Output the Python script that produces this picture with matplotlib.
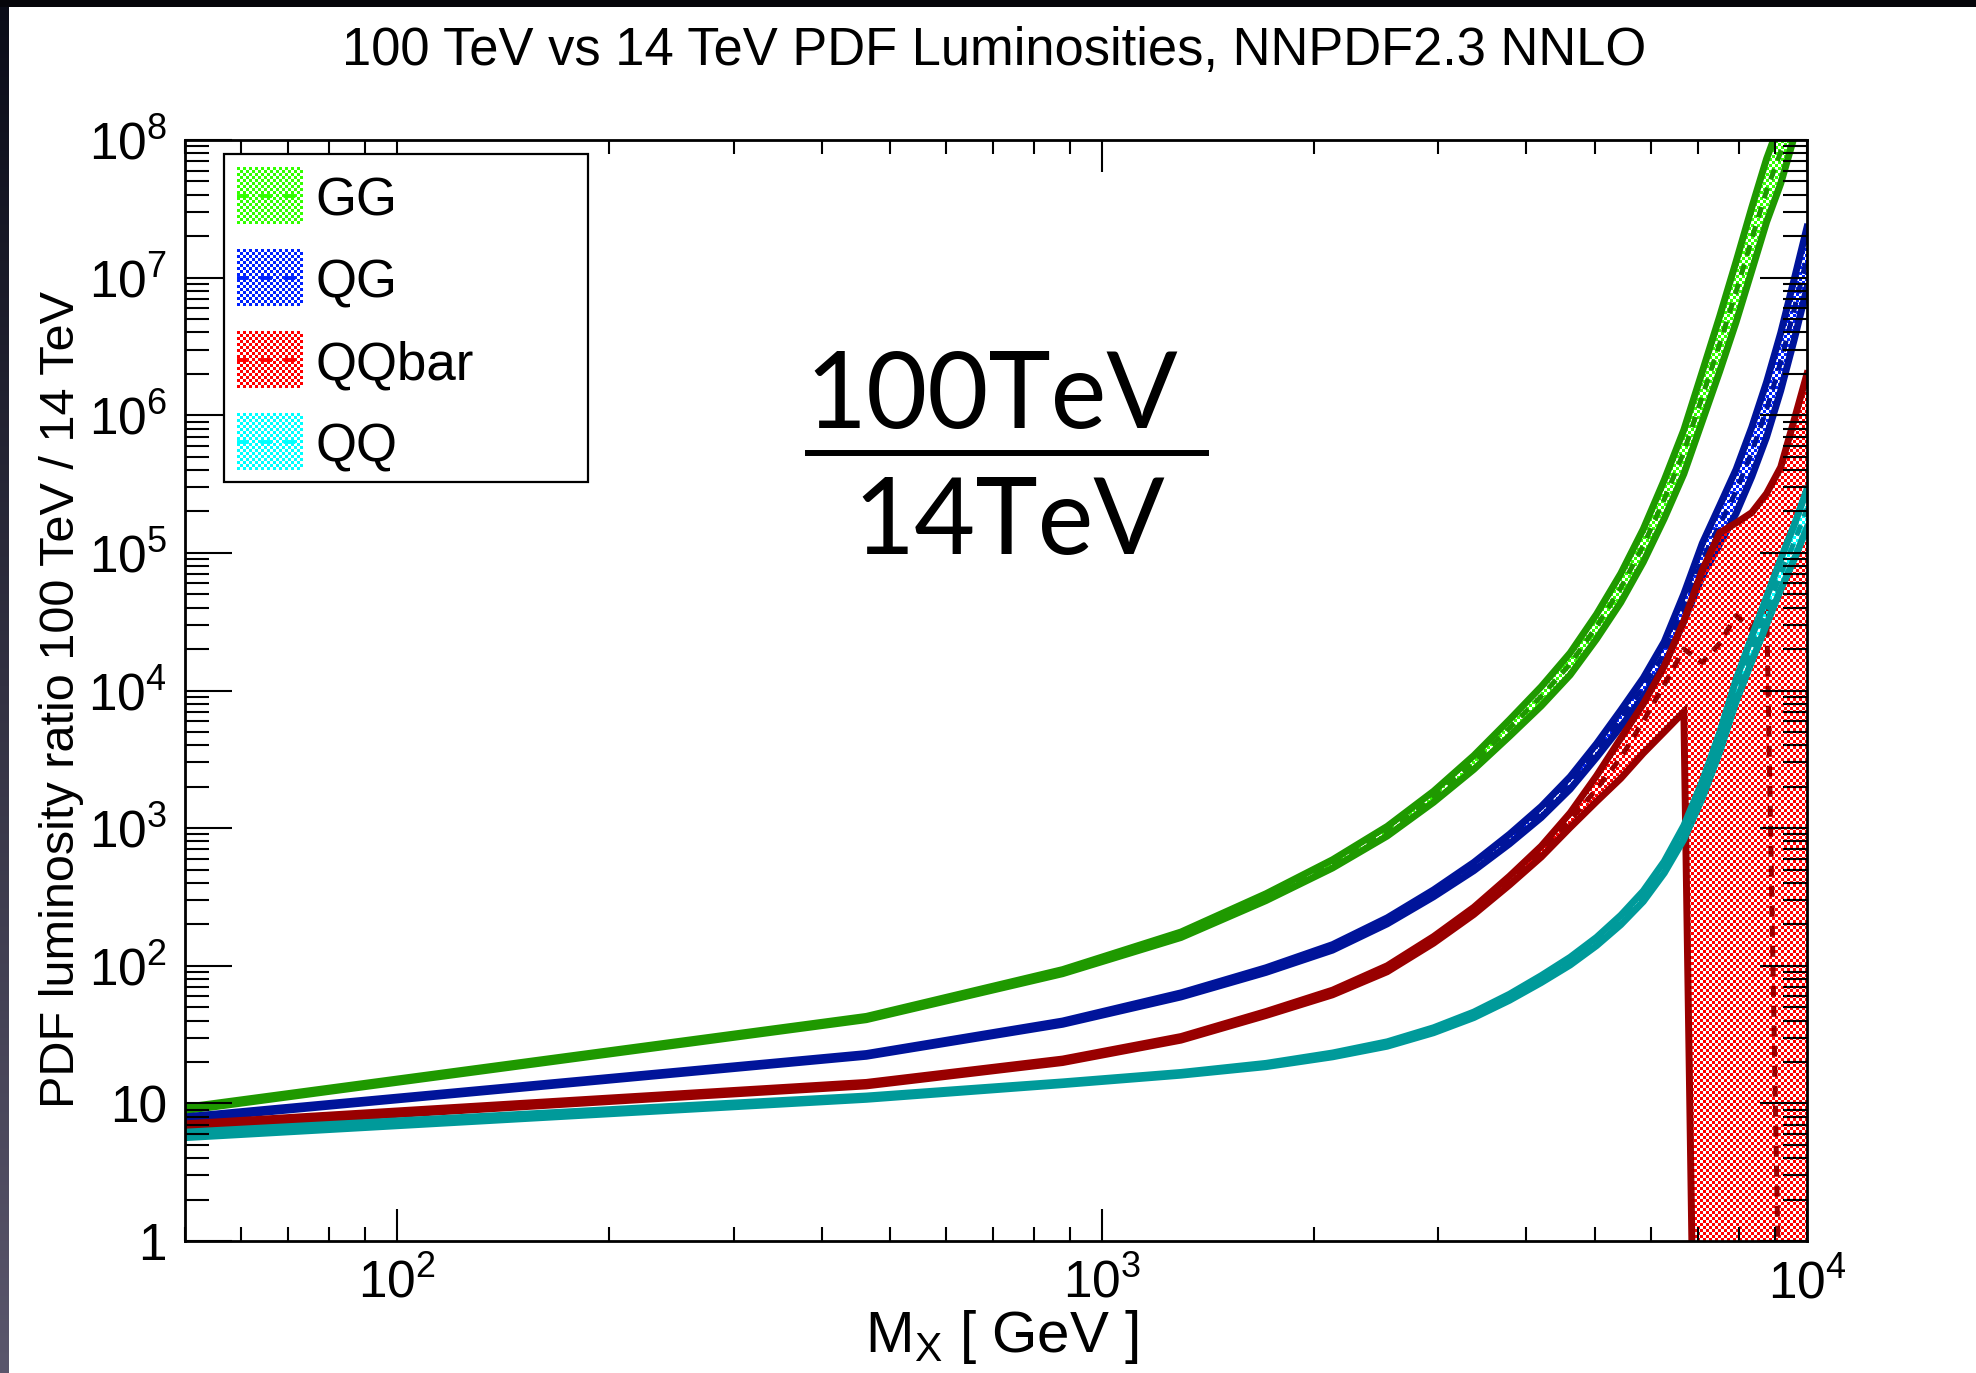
import numpy as np
import matplotlib
matplotlib.use('Agg')
import matplotlib.pyplot as plt
from matplotlib.patches import Rectangle
from matplotlib.path import Path
from matplotlib.lines import Line2D
from matplotlib.image import AxesImage
from matplotlib.colors import to_rgb
from matplotlib.ticker import FixedLocator, FixedFormatter, LogLocator, NullFormatter

# ---------------- data ----------------
mass_gev = [50, 463, 879, 1294, 1708, 2123, 2538, 2953, 3368, 3783, 4198, 4613,
            5028, 5443, 5858, 6273, 6688, 7103, 7518, 7933, 8348, 8763, 9178, 9593, 10000]

gg_central = [9.1, 41.7, 90.6, 168, 315, 550, 950, 1690, 3000, 5330, 9080, 15600,
              29100, 55600, 1.13e5, 2.45e5, 5.42e5, 1.37e6, 3.3e6, 7.9e6, 1.9e7, 4.3e7,
              8.2e7, 1.8e8, 3.6e8]
gg_halfwidth_dec = [0.012, 0.012, 0.015, 0.02, 0.025, 0.03, 0.035, 0.04, 0.05, 0.06, 0.07,
                    0.08, 0.09, 0.105, 0.12, 0.14, 0.16, 0.18, 0.2, 0.22, 0.23, 0.23, 0.23,
                    0.23, 0.23]

qg_central = [7.8, 22.5, 38.6, 61.4, 93, 136, 212, 336, 526, 832, 1310, 2130, 3660, 6270,
              10500, 18600, 40000, 89000, 1.6e5, 2.8e5, 5.4e5, 1.1e6, 2.45e6, 5.9e6, 1.4e7]
qg_halfwidth_dec = [0.01, 0.01, 0.012, 0.015, 0.017, 0.02, 0.022, 0.025, 0.03, 0.035, 0.04,
                    0.045, 0.05, 0.06, 0.07, 0.085, 0.1, 0.12, 0.14, 0.16, 0.18, 0.2, 0.21,
                    0.22, 0.22]

qqbar_central = [6.9, 13.8, 20.4, 29.7, 45, 64, 95, 154, 251, 415, 676, 1140, 1920, 3250,
                 6000, 11000, 20000, 16000, 22000, 35000, 28000, 45000, 0.06, 0.06, 0.06]
qqbar_lower = [6.7, 13.4, 19.8, 28.8, 43.5, 61.5, 90.5, 146, 236, 386, 617, 1010, 1560, 2300,
               3500, 5000, 7000, 1e-5, 1e-5, 1e-5, 1e-5, 1e-5, 1e-5, 1e-5, 1e-5]
qqbar_upper = [7.1, 14.2, 21.0, 30.6, 46.5, 66.5, 100, 163, 266, 447, 740, 1290, 2400, 4500,
               8000, 15000, 32000, 75000, 1.4e5, 1.65e5, 1.96e5, 2.7e5, 4.2e5, 9.3e5, 2e6]

qq_central = [5.9, 11.0, 14.0, 16.4, 19.0, 22.5, 27, 34, 44, 59, 80, 108, 150, 215, 320, 520,
              930, 1900, 4200, 10000, 20000, 38000, 70000, 1.2e5, 2.1e5]
qq_halfwidth_dec = [0.02, 0.012, 0.01, 0.01, 0.012, 0.014, 0.016, 0.018, 0.02, 0.022, 0.025,
                    0.028, 0.03, 0.034, 0.038, 0.042, 0.05, 0.06, 0.07, 0.08, 0.09, 0.1, 0.11,
                    0.125, 0.14]

series_names = ['GG', 'QG', 'QQbar', 'QQ']
line_colors = ['#1f9900', '#00149a', '#990000', '#009a9a']
fill_colors = ['#33ff00', '#0022ff', '#ff0000', '#00ffff']

xtick_values = [1e2, 1e3, 1e4]
xtick_labels = [r'$10^{2}$', r'$10^{3}$', r'$10^{4}$']
ytick_values = [1, 10, 1e2, 1e3, 1e4, 1e5, 1e6, 1e7, 1e8]
ytick_labels = ['1', '10', r'$10^{2}$', r'$10^{3}$', r'$10^{4}$', r'$10^{5}$',
                r'$10^{6}$', r'$10^{7}$', r'$10^{8}$']

title_text = '100 TeV vs 14 TeV PDF Luminosities, NNPDF2.3 NNLO'
xlabel_text = r'$\mathrm{M}_{\mathrm{X}}$ [ GeV ]'
ylabel_text = 'PDF luminosity ratio 100 TeV / 14 TeV'

# ---------------- style ----------------
plt.rcParams['font.family'] = ['Liberation Sans', 'DejaVu Sans']
plt.rcParams['mathtext.fontset'] = 'custom'
plt.rcParams['mathtext.rm'] = 'Liberation Sans'
plt.rcParams['mathtext.it'] = 'Liberation Sans:italic'
plt.rcParams['mathtext.bf'] = 'Liberation Sans:bold'

W, H = 1976, 1373
fig = plt.figure(figsize=(W / 100, H / 100), dpi=100)
fig.patch.set_facecolor('white')


def fx(px):
    return px / W


def fy(py):
    return 1 - py / H


# slide border decoration (dark strip on the left, black line on top)
strip = fig.add_axes([0, 0, fx(9), 1])
grad = np.linspace(0, 1, 256)[:, None]
c_top = np.array(to_rgb('#0a0c18'))
c_bot = np.array(to_rgb('#5a566c'))
strip.imshow((c_top[None, None, :] * (1 - grad[..., None]) + c_bot[None, None, :] * grad[..., None]),
             aspect='auto', interpolation='bilinear')
strip.axis('off')
fig.patches.append(Rectangle((0, fy(7)), 1, 7 / H, transform=fig.transFigure,
                             facecolor='#05050a', edgecolor='none', zorder=5))

AX_L, AX_R, AX_T, AX_B = 185, 1807, 140, 1241
ax = fig.add_axes([fx(AX_L), fy(AX_B), (AX_R - AX_L) / W, (AX_B - AX_T) / H])
ax.set_xscale('log')
ax.set_yscale('log')
ax.set_facecolor('white')

ax_w, ax_h = AX_R - AX_L, AX_B - AX_T
CELL = 3
yy, xx = np.mgrid[0:ax_h, 0:ax_w]
checker_mask = (((xx // CELL) + (yy // CELL)) % 2 == 0)


def checker_rgba(color, mask):
    rgba = np.zeros(mask.shape + (4,), dtype=np.uint8)
    r, g, b = to_rgb(color)
    rgba[..., 0] = int(r * 255)
    rgba[..., 1] = int(g * 255)
    rgba[..., 2] = int(b * 255)
    rgba[..., 3] = mask.astype(np.uint8) * 255
    return rgba


M = np.array(mass_gev, dtype=float)
EDGE_LW = 5.0
CENTER_LW = 3.6


def band(lo, hi, central, lcol, fcol, z):
    verts = np.vstack([np.column_stack([M, lo]), np.column_stack([M[::-1], hi[::-1]]),
                       [[M[0], lo[0]]]])
    codes = [Path.MOVETO] + [Path.LINETO] * (len(verts) - 2) + [Path.CLOSEPOLY]
    path = Path(verts, codes)
    im = AxesImage(ax, interpolation='nearest', origin='upper',
                   extent=(0, 1, 0, 1), transform=ax.transAxes)
    im.set_data(checker_rgba(fcol, checker_mask))
    im.set_zorder(z)
    ax.add_image(im)
    im.set_clip_path(path, ax.transData)
    ax.plot(M, lo, color=lcol, lw=EDGE_LW, zorder=z + 0.2, solid_joinstyle='miter')
    ax.plot(M, hi, color=lcol, lw=EDGE_LW, zorder=z + 0.2, solid_joinstyle='miter')
    ax.plot(M, central, color=lcol, lw=CENTER_LW, ls=(0, (2.2, 1.8)), zorder=z + 0.3)


gg_c = np.array(gg_central)
gg_h = 10 ** np.array(gg_halfwidth_dec)
band(gg_c / gg_h, gg_c * gg_h, gg_c, line_colors[0], fill_colors[0], 1)

qg_c = np.array(qg_central)
qg_h = 10 ** np.array(qg_halfwidth_dec)
band(qg_c / qg_h, qg_c * qg_h, qg_c, line_colors[1], fill_colors[1], 3)

band(np.array(qqbar_lower), np.array(qqbar_upper), np.array(qqbar_central),
     line_colors[2], fill_colors[2], 5)

qq_c = np.array(qq_central)
qq_h = 10 ** np.array(qq_halfwidth_dec)
band(qq_c / qq_h, qq_c * qq_h, qq_c, line_colors[3], fill_colors[3], 7)

ax.set_xlim(50, 1e4)
ax.set_ylim(1, 1e8)

# ---------------- axes / ticks ----------------
ax.xaxis.set_major_locator(FixedLocator(xtick_values))
ax.xaxis.set_major_formatter(FixedFormatter(xtick_labels))
ax.xaxis.set_minor_locator(LogLocator(base=10, subs=np.arange(2, 10), numticks=30))
ax.xaxis.set_minor_formatter(NullFormatter())
ax.yaxis.set_major_locator(FixedLocator(ytick_values))
ax.yaxis.set_major_formatter(FixedFormatter(ytick_labels))
ax.yaxis.set_minor_locator(LogLocator(base=10, subs=np.arange(2, 10), numticks=30))
ax.yaxis.set_minor_formatter(NullFormatter())

ax.tick_params(axis='x', which='major', direction='in', length=23, width=1.5,
               top=True, bottom=True, pad=13, labelsize=37)
ax.tick_params(axis='x', which='minor', direction='in', length=10, width=1.5,
               top=True, bottom=True)
ax.tick_params(axis='y', which='major', direction='in', length=34, width=1.5,
               left=True, right=True, pad=13, labelsize=37)
ax.tick_params(axis='y', which='minor', direction='in', length=17, width=1.5,
               left=True, right=True)
for sp in ax.spines.values():
    sp.set_linewidth(2.0)
    sp.set_zorder(20)
ax.xaxis.set_zorder(20)
ax.yaxis.set_zorder(20)

# ---------------- texts ----------------
fig.text(fx(994), fy(65), title_text, ha='center', va='baseline', fontsize=37.8)
fig.text(fx(1002), fy(1352), xlabel_text, ha='center', va='baseline', fontsize=42)
fig.text(fx(74), fy(700), ylabel_text, ha='center', va='baseline', rotation=90,
         rotation_mode='anchor', fontsize=35)

fig.text(fx(992), fy(428), '100TeV', ha='center', va='baseline', fontsize=76,
         family=['Lato', 'DejaVu Sans'])
fig.text(fx(1009), fy(554), '14TeV', ha='center', va='baseline', fontsize=76,
         family=['Lato', 'DejaVu Sans'])
fig.add_artist(Line2D([fx(808), fx(1206)], [fy(453), fy(453)], color='black', lw=4.3,
                      transform=fig.transFigure, zorder=30))

# ---------------- legend (drawn by hand, ROOT style) ----------------
LEG_L, LEG_R, LEG_T, LEG_B = 224, 588, 154, 482
fig.add_artist(Rectangle((fx(LEG_L), fy(LEG_B)), (LEG_R - LEG_L) / W, (LEG_B - LEG_T) / H,
                         transform=fig.transFigure, facecolor='white', edgecolor='black',
                         lw=1.6, zorder=40))
entry_baselines = [215, 297, 379, 461]
PW, PH = 66, 57
pmask_y, pmask_x = np.mgrid[0:PH, 0:PW]
patch_mask = (((pmask_x // CELL) + (pmask_y // CELL)) % 2 == 0)
for name, fcol, base in zip(series_names, fill_colors, entry_baselines):
    ptop = base - 48
    pax = fig.add_axes([fx(237), fy(ptop + PH), PW / W, PH / H], zorder=41)
    pax.imshow(checker_rgba(fcol, patch_mask), aspect='auto', interpolation='nearest')
    pax.set_xlim(-0.5, PW - 0.5)
    pax.set_ylim(PH - 0.5, -0.5)
    pax.plot([-0.5, PW - 0.5], [PH / 2, PH / 2], color=fcol, lw=2.8, ls=(0, (3, 3)))
    pax.axis('off')
    t = fig.text(fx(315), fy(base), name, ha='left', va='baseline', fontsize=38)
    t.set_zorder(42)

fig.savefig('out.png', dpi=100)
